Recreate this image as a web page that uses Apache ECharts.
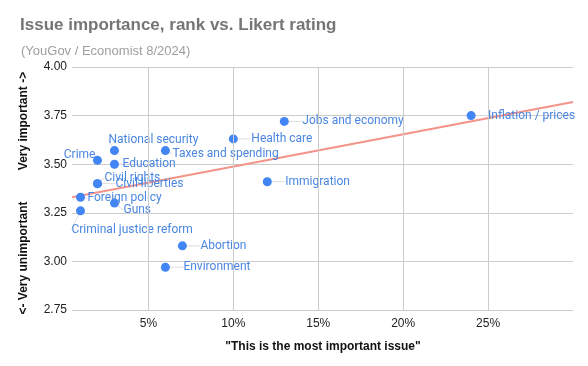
<!DOCTYPE html>
<html>
<head>
<meta charset="utf-8">
<script src="https://cdn.jsdelivr.net/npm/echarts@6/dist/echarts.min.js"></script>
<style>
html,body{margin:0;padding:0;background:#fff;}
#chart{width:588px;height:366px;}
</style>
</head>
<body>
<div id="chart"></div>
<script>
// ---- data ----
const issues = ["Inflation / prices","Jobs and economy","Health care","Immigration","Taxes and spending","National security","Education","Crime","Civil rights","Civil liberties","Foreign policy","Guns","Criminal justice reform","Abortion","Environment"];
const mostImportantPct = [24,13,10,12,6,3,3,2,2,2,1,3,1,7,6];
const likertRating = [3.75,3.72,3.63,3.41,3.57,3.57,3.50,3.52,3.40,3.40,3.33,3.30,3.26,3.08,2.97];
const xTicks = [5,10,15,20,25];
const X_MIN = 0.5, X_MAX = 30;

// ---- label placement (style only) ----
const labelPlace = {
  "Inflation / prices":{dx:17,dy:0},
  "Jobs and economy":{dx:18,dy:0},
  "Health care":{dx:18,dy:0},
  "Immigration":{dx:18,dy:0},
  "Taxes and spending":{dx:7,dy:3},
  "National security":{dx:-6,dy:-11},
  "Education":{dx:8,dy:0},
  "Crime":{dx:-2,dy:-5,align:'right'},
  "Civil rights":{dx:7,dy:-6},
  "Civil liberties":{dx:18,dy:0},
  "Foreign policy":{dx:7,dy:1},
  "Guns":{dx:9,dy:7},
  "Criminal justice reform":{dx:-9,dy:19},
  "Abortion":{dx:18,dy:0},
  "Environment":{dx:18,dy:0}
};

// ---- linear trendline (least squares) ----
const n = mostImportantPct.length;
const mx = mostImportantPct.reduce((a,b)=>a+b,0)/n;
const my = likertRating.reduce((a,b)=>a+b,0)/n;
let sxy=0,sxx=0;
for(let i=0;i<n;i++){sxy+=(mostImportantPct[i]-mx)*(likertRating[i]-my);sxx+=(mostImportantPct[i]-mx)**2;}
const slope=sxy/sxx, icpt=my-slope*mx;
const trend=[[X_MIN,icpt+slope*X_MIN],[X_MAX,icpt+slope*X_MAX]];

const chart = echarts.init(document.getElementById('chart'), null, {renderer:'canvas'});
const FONT = 'Roboto, "Noto Sans", sans-serif';
const AFONT = '"Liberation Sans", Arial, sans-serif';
chart.setOption({
  animation:false,
  textStyle:{fontFamily:FONT},
  title:[
    {text:'Issue importance, rank vs. Likert rating',left:15,top:12,
     textStyle:{fontSize:17,fontWeight:'bold',color:'#757575',fontFamily:AFONT}},
    {text:'(YouGov / Economist 8/2024)',left:16,top:40,
     textStyle:{fontSize:13,fontWeight:'normal',color:'#9e9e9e',fontFamily:AFONT}}
  ],
  grid:{left:72,right:15,top:67,bottom:56},
  xAxis:{type:'value',min:X_MIN,max:X_MAX,
    axisLine:{show:false},axisTick:{show:false},splitLine:{show:false},
    axisLabel:{customValues:xTicks,formatter:v=>v+'%',color:'#222',fontSize:12,margin:8,fontFamily:AFONT}},
  yAxis:{type:'value',min:2.75,max:4,interval:0.25,
    axisLine:{show:false},axisTick:{show:false},
    splitLine:{lineStyle:{color:'#cccccc',width:1}},
    axisLabel:{formatter:v=>v.toFixed(2),color:'#222',fontSize:12,margin:5,fontFamily:AFONT}},
  graphic:[
    {type:'text',x:24,y:121,rotation:Math.PI/2,
     style:{text:'Very important ->',font:'bold 12px '+AFONT,fill:'#111',textAlign:'center',textVerticalAlign:'middle'}},
    {type:'text',x:24,y:258,rotation:Math.PI/2,
     style:{text:'<- Very unimportant',font:'bold 12px '+AFONT,fill:'#111',textAlign:'center',textVerticalAlign:'middle'}},
    {type:'text',x:323,y:347,
     style:{text:'"This is the most important issue"',font:'bold 12px '+AFONT,fill:'#111',textAlign:'center',textVerticalAlign:'middle'}}
  ],
  series:[
    {type:'line',data:trend,showSymbol:false,silent:true,z:3,
     lineStyle:{color:'#f4938a',width:2},
     markLine:{silent:true,symbol:'none',label:{show:false},
       lineStyle:{color:'#cccccc',type:'solid',width:1},
       data:xTicks.map(v=>({xAxis:v}))}},
    {type:'scatter',z:4,symbolSize:9,
     itemStyle:{color:'#4285f4',opacity:1},
     data:issues.map((nm,i)=>({name:nm,value:[mostImportantPct[i],likertRating[i]]})),
     label:{show:true,formatter:p=>p.name,position:'right',color:'#4a86e0',fontSize:12,fontFamily:FONT},
     labelLine:{show:true,lineStyle:{color:'#dddddd',width:1}},
     labelLayout:function(p){
       const o=labelPlace[issues[p.dataIndex]];
       const cx=p.rect.x+p.rect.width/2, cy=p.rect.y+p.rect.height/2;
       return {x:cx+o.dx,y:cy+o.dy,align:o.align||'left',verticalAlign:'middle'};
     }}
  ]
});
</script>
</body>
</html>
